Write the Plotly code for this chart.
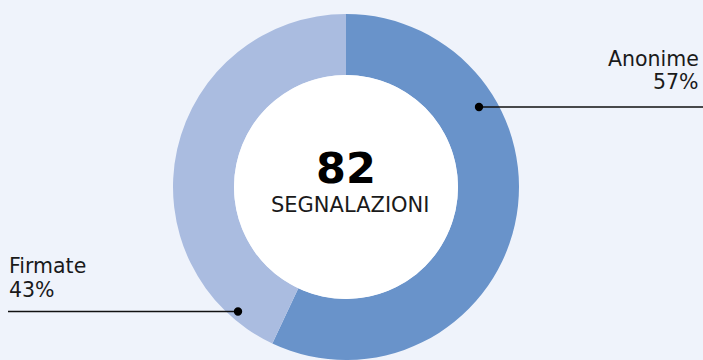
import plotly.graph_objects as go

# --- data -------------------------------------------------------------
categories = ["Anonime", "Firmate"]
percentages = [57, 43]
total_reports = 82
center_caption = "SEGNALAZIONI"

# --- styling ----------------------------------------------------------
W, H = 703, 360
BG = "#EFF3FB"
COLORS = ["#6993CA", "#AABCE0"]
FONT = "DejaVu Sans"
TEXT = "#1a1a1a"

# donut geometry in pixels
cx, cy = 346, 187          # centre
r_out = 173                # outer radius
r_in = 112                 # white inner disc radius


def px(x):
    return x / W


def py(y):
    return 1 - y / H


fig = go.Figure()

# outer ring
fig.add_trace(go.Pie(
    labels=categories,
    values=percentages,
    sort=False,
    direction="clockwise",
    rotation=0,
    hole=r_in / r_out,
    marker=dict(colors=COLORS, line=dict(width=0)),
    textinfo="none",
    hoverinfo="label+percent",
    showlegend=False,
    domain=dict(x=[px(cx - r_out), px(cx + r_out)],
                y=[py(cy + r_out), py(cy - r_out)]),
))

# white centre disc
fig.add_trace(go.Pie(
    values=[1],
    marker=dict(colors=["#FFFFFF"], line=dict(width=0)),
    textinfo="none",
    hoverinfo="skip",
    showlegend=False,
    domain=dict(x=[px(cx - r_in), px(cx + r_in)],
                y=[py(cy + r_in), py(cy - r_in)]),
))

annotations = [
    dict(text=f"<b>{total_reports}</b>", x=px(cx), y=py(168),
         font=dict(size=43, color="#000000", family=FONT)),
    dict(text=center_caption, x=px(350), y=py(205),
         font=dict(size=21, color=TEXT, family=FONT)),
]

# leader labels: (label, percent, line y, dot x, line x0, line x1, side)
leaders = [
    (categories[0], percentages[0], 107, 479, 479, 703, "right"),
    (categories[1], percentages[1], 311.5, 238, 8, 238, "left"),
]

shapes = []
for name, pct, ly, dx, x0, x1, side in leaders:
    shapes.append(dict(type="line", xref="paper", yref="paper",
                       x0=px(x0), x1=px(x1), y0=py(ly), y1=py(ly),
                       line=dict(color="#111111", width=1.6), layer="above"))
    shapes.append(dict(type="circle", xref="paper", yref="paper",
                       x0=px(dx - 4.2), x1=px(dx + 4.2),
                       y0=py(ly + 4.2), y1=py(ly - 4.2),
                       fillcolor="#000000", line=dict(width=0), layer="above"))
    if side == "right":
        tx, anchor = px(701), "right"
        y1, y2 = ly - 48, ly - 25
    else:
        tx, anchor = px(7), "left"
        y1, y2 = ly - 46, ly - 22
    annotations.append(dict(text=name, x=tx, y=py(y1), xanchor=anchor,
                            font=dict(size=20.5, color=TEXT, family=FONT)))
    annotations.append(dict(text=f"{pct}%", x=tx, y=py(y2), xanchor=anchor,
                            font=dict(size=20.5, color=TEXT, family=FONT)))

for a in annotations:
    a.setdefault("xref", "paper")
    a.setdefault("yref", "paper")
    a.setdefault("showarrow", False)
    a.setdefault("xanchor", "center")
    a.setdefault("yanchor", "middle")

fig.update_layout(
    width=W, height=H,
    margin=dict(l=0, r=0, t=0, b=0),
    paper_bgcolor=BG,
    plot_bgcolor=BG,
    annotations=annotations,
    shapes=shapes,
)

fig.write_html("out.html", config={"displayModeBar": False})
